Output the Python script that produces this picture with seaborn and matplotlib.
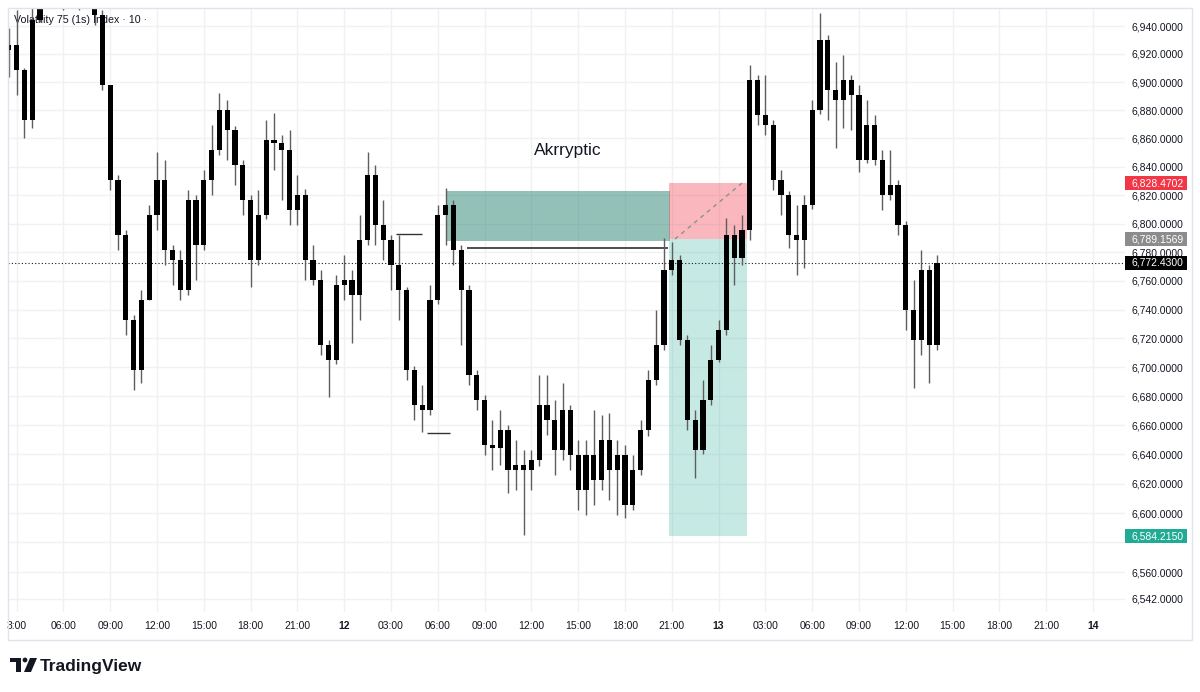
import numpy as np
import pandas as pd
import seaborn as sns
import matplotlib.pyplot as plt
from matplotlib.patches import Rectangle, Polygon, Circle
from matplotlib.transforms import IdentityTransform
from matplotlib.ticker import NullLocator

sns.set_theme(style="white")
plt.rcParams['font.family'] = ['Liberation Sans', 'DejaVu Sans']

# --- data (30 min candles, hours counted from day 11 00:00) ---
hours = np.arange(2.5, 62.01, 0.5)
first_open = 6923.0
closes = [
    6926.7, 6908.8, 6873.2, 6944.5, 6972.4, 6979.3, 6968.9, 6965.4, 6975.8, 6965.4,
    6972.4, 6948.0, 6898.1, 6830.8, 6792.1, 6732.7, 6698.0, 6746.7, 6806.2, 6830.8,
    6781.6, 6774.6, 6753.6, 6816.8, 6785.1, 6830.8, 6852.0, 6880.3, 6866.2, 6841.4,
    6816.8, 6774.6, 6806.2, 6859.1, 6857.0, 6852.0, 6809.7, 6820.2, 6774.6, 6760.6,
    6715.3, 6705.0, 6757.1, 6760.6, 6750.2, 6788.6, 6834.3, 6799.2, 6788.6, 6771.1,
    6753.6, 6698.0, 6673.9, 6670.5, 6746.7, 6806.2, 6813.2, 6781.6, 6753.6, 6694.5,
    6677.4, 6646.5, 6644.4, 6656.7, 6629.4, 6632.8, 6629.4, 6636.1, 6673.9, 6663.6,
    6643.1, 6670.5, 6639.6, 6615.6, 6639.6, 6622.5, 6650.0, 6629.4, 6639.6, 6605.4,
    6629.4, 6656.7, 6691.0, 6715.3, 6767.5, 6774.6, 6718.8, 6663.6, 6643.1, 6677.4,
    6705.0, 6725.8, 6792.1, 6776.0, 6795.7, 6901.6, 6876.8, 6869.7, 6830.8, 6820.2,
    6792.1, 6788.6, 6813.2, 6880.3, 6930.3, 6894.5, 6887.4, 6901.6, 6891.0, 6845.0,
    6869.7, 6845.0, 6820.2, 6827.3, 6799.2, 6739.7, 6718.8, 6767.5, 6715.3, 6772.43,
]
highs = [
    6938.8, 6951.5, 6910.0, 6952.9, 6986.3, 6993.2, 6986.3, 6979.3, 6989.8, 6979.3,
    6986.3, 6975.8, 6951.5, 6898.1, 6834.3, 6795.7, 6736.2, 6753.6, 6813.2, 6850.7,
    6845.0, 6785.1, 6781.6, 6823.8, 6820.2, 6837.8, 6869.7, 6892.4, 6887.4, 6869.0,
    6845.0, 6820.0, 6823.8, 6873.2, 6878.2, 6862.6, 6866.2, 6834.3, 6824.0, 6785.1,
    6767.5, 6718.8, 6764.1, 6778.1, 6767.5, 6806.2, 6850.7, 6841.4, 6816.8, 6792.1,
    6792.1, 6756.0, 6701.0, 6687.6, 6757.1, 6813.2, 6825.2, 6816.8, 6785.0, 6757.0,
    6698.0, 6680.8, 6663.6, 6670.5, 6660.0, 6650.0, 6643.1, 6643.1, 6694.5, 6694.5,
    6677.4, 6689.1, 6673.9, 6650.0, 6650.0, 6670.5, 6667.1, 6668.4, 6650.0, 6646.5,
    6639.6, 6663.6, 6698.0, 6739.7, 6790.0, 6787.0, 6778.0, 6722.0, 6670.5, 6691.0,
    6715.3, 6732.7, 6804.1, 6799.2, 6806.2, 6912.3, 6905.1, 6905.1, 6873.0, 6837.8,
    6823.0, 6813.2, 6820.2, 6887.4, 6949.4, 6933.9, 6914.5, 6919.5, 6905.0, 6898.1,
    6887.4, 6876.8, 6852.0, 6852.0, 6830.8, 6802.0, 6760.6, 6781.6, 6771.0, 6778.1,
]
lows = [
    6903.9, 6891.0, 6860.5, 6867.6, 6943.0, 6965.4, 6961.9, 6951.5, 6961.9, 6951.5,
    6961.9, 6941.0, 6894.5, 6823.8, 6781.6, 6722.3, 6684.2, 6689.1, 6746.7, 6795.7,
    6771.1, 6757.1, 6746.7, 6750.0, 6760.6, 6781.6, 6820.2, 6848.0, 6845.0, 6827.3,
    6806.2, 6755.7, 6771.0, 6803.0, 6837.8, 6816.8, 6799.2, 6799.2, 6760.6, 6757.1,
    6708.3, 6679.5, 6702.0, 6746.7, 6716.7, 6732.7, 6785.0, 6785.1, 6774.6, 6753.6,
    6732.7, 6691.0, 6663.6, 6655.4, 6667.0, 6744.0, 6785.1, 6771.1, 6715.3, 6687.6,
    6670.5, 6639.6, 6629.4, 6632.8, 6613.7, 6615.6, 6585.0, 6615.6, 6632.0, 6653.3,
    6626.0, 6636.1, 6629.4, 6602.0, 6598.7, 6605.4, 6615.6, 6608.9, 6598.7, 6596.6,
    6602.0, 6626.0, 6653.0, 6687.6, 6711.8, 6764.1, 6715.3, 6656.7, 6623.9, 6640.0,
    6674.0, 6703.6, 6722.0, 6757.1, 6771.1, 6788.6, 6869.7, 6862.6, 6823.8, 6806.2,
    6783.0, 6764.1, 6769.0, 6810.0, 6877.0, 6873.2, 6853.4, 6867.6, 6866.2, 6836.4,
    6842.9, 6841.4, 6809.7, 6816.8, 6792.1, 6725.8, 6685.6, 6708.3, 6689.1, 6712.0,
]

last_price = 6772.43
stop_price = 6828.4702
entry_price = 6789.1569
target_price = 6584.2150
zone_top, zone_bottom = 6823.1, 6788.0
zone_start, zone_end = 30.59, 44.88
trade_start, trade_end = 44.82, 49.82
level_line = (31.87, 44.76, 6782.9)
short_lines = [(27.32, 28.99, 6792.7), (29.31, 30.78, 6654.7)]

price_ticks = [6542, 6560, 6580, 6600, 6620, 6640, 6660, 6680, 6700, 6720, 6740,
               6760, 6780, 6800, 6820, 6840, 6860, 6880, 6900, 6920, 6940]
hidden_ticks = [6580]  # sits under the target price tag
time_ticks = list(range(3, 73, 3))
time_labels = ['3:00', '06:00', '09:00', '12:00', '15:00', '18:00', '21:00', '12',
               '03:00', '06:00', '09:00', '12:00', '15:00', '18:00', '21:00', '13',
               '03:00', '06:00', '09:00', '12:00', '15:00', '18:00', '21:00', '14']

df = pd.DataFrame({'hour': hours, 'high': highs, 'low': lows, 'close': closes})
df['open'] = [first_open] + closes[:-1]

TXT = '#131722'
fig = plt.figure(figsize=(12, 6.92), dpi=100)
ax = fig.add_axes([8 / 1200, 80 / 692, 1117 / 1200, 604 / 692])
ax.set_yscale('log')
ax.set_xlim(2.45, 74.05)
ax.set_ylim(6533.0, 6952.9)

# zones
ax.add_patch(Rectangle((zone_start, zone_bottom), zone_end - zone_start, zone_top - zone_bottom,
                       fc='#298371', alpha=0.5, ec='none', zorder=1))
ax.add_patch(Rectangle((trade_start, entry_price), trade_end - trade_start, stop_price - entry_price,
                       fc='#f23645', alpha=0.35, ec='none', zorder=1))
ax.add_patch(Rectangle((trade_start, target_price), trade_end - trade_start, entry_price - target_price,
                       fc='#22ab94', alpha=0.25, ec='none', zorder=1))
ax.plot([45.2, 49.5], [entry_price, stop_price], color='#8f8f8f', lw=1, ls=(0, (3, 3)), zorder=2)
ax.hlines(level_line[2], level_line[0], level_line[1], color='#4d4d4d', lw=1.4, zorder=2)
for x0, x1, p in short_lines:
    ax.hlines(p, x0, x1, color='#333333', lw=1, zorder=2)
ax.axhline(last_price, color=TXT, lw=0.8, ls=(0, (1, 2)), zorder=2)

# candles
ax.vlines(df['hour'], df['low'], df['high'], color='#5e5e5e', lw=1.0, zorder=3)
body_low = df[['open', 'close']].min(axis=1)
body_h = (df['close'] - df['open']).abs().clip(lower=0.5)
ax.bar(df['hour'], body_h, bottom=body_low, width=0.34, color='black', linewidth=0, zorder=4)

ax.text(38.35, 6851.8, 'Akrryptic', ha='center', va='center', fontsize=12.5, color=TXT, zorder=5)
ax.text(14, 692 - 20, 'Volatility 75 (1s) Index · 10 ·', transform=IdentityTransform(),
        fontsize=7.7, color=TXT, va='center', ha='left', zorder=2)

# axes styling
ax.yaxis.tick_right()
ax.set_yticks(price_ticks)
ax.yaxis.set_minor_locator(NullLocator())
ax.set_yticklabels(['' if p in hidden_ticks else f'{p:,.4f}' for p in price_ticks])
ax.set_xticks(time_ticks)
ax.set_xticklabels(time_labels)
for lbl in ax.get_xticklabels():
    if ':' not in lbl.get_text():
        lbl.set_fontweight('bold')
ax.tick_params(axis='y', length=0, pad=4.5, labelsize=7.5, labelcolor=TXT)
ax.tick_params(axis='x', length=0, pad=6.5, labelsize=7.5, labelcolor=TXT)
ax.grid(True, color='#f0f1f4', lw=1)
ax.set_axisbelow(True)
for s in ax.spines.values():
    s.set_visible(False)


def price_tag(price, text, color):
    y = ax.transData.transform((10, price))[1]
    fig.add_artist(Rectangle((1125, y - 7), 62, 14, transform=IdentityTransform(),
                             fc=color, ec='none', zorder=5))
    fig.text(1131, y, text, transform=IdentityTransform(), color='white',
             fontsize=7.5, va='center', ha='left', zorder=6)


price_tag(stop_price, f'{stop_price:,.4f}', '#f23645')
price_tag(entry_price, f'{entry_price:,.4f}', '#8c8c8c')
price_tag(last_price, f'{last_price:,.4f}', '#000000')
price_tag(target_price, f'{target_price:,.4f}', '#22ab94')

# chart frame
fig.add_artist(Rectangle((8, 52), 1184, 632, transform=IdentityTransform(),
                         fill=False, ec='#e0e3eb', lw=1))

# TradingView logo
idt = IdentityTransform()
fig.add_artist(Rectangle((10, 692 - 662), 11, 4, transform=idt, fc=TXT, ec='none'))
fig.add_artist(Rectangle((16, 692 - 672), 5, 14, transform=idt, fc=TXT, ec='none'))
fig.add_artist(Circle((25, 692 - 660), 2.4, transform=idt, fc=TXT, ec='none'))
fig.add_artist(Polygon([(30, 692 - 658), (37, 692 - 658), (31, 692 - 672), (24, 692 - 672)],
                       transform=idt, fc=TXT, ec='none'))
fig.text(40, 692 - 666, 'TradingView', transform=idt, fontsize=12.5, fontweight='bold',
         va='center', ha='left', color=TXT)

fig.savefig('out.png', dpi=100)
